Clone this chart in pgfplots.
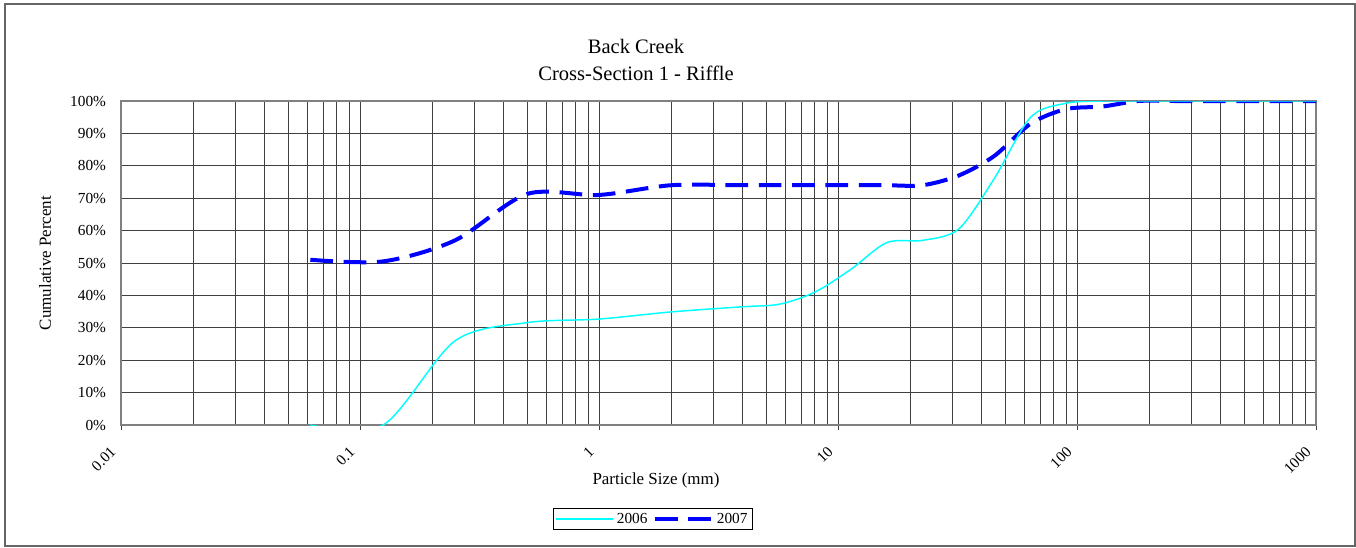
\documentclass[border=0pt]{standalone}
\usepackage{pgfplots}
\pgfplotsset{compat=1.18}
\usepackage{fontspec}
\setmainfont{Liberation Serif}
\definecolor{c2006}{RGB}{0,255,255}
\definecolor{c2007}{RGB}{0,0,255}
\begin{document}
\begin{tikzpicture}
\useasboundingbox (-90.75pt,-91.5pt) rectangle (926.25pt,318.75pt);
\draw[black!60, line width=0.9pt] (-87pt,-90.75pt) rectangle (925.5pt,315.75pt);
\begin{axis}[
  at={(0,0)}, anchor=south west,
  width=896.25pt, height=243pt, scale only axis,
  xmode=log, log basis x=10,
  xmin=0.01, xmax=1000, ymin=0, ymax=100,
  xtick={0.01,0.1,1,10,100,1000},
  xticklabels={0.01,0.1,1,10,100,1000},
  minor xtick={0.02,0.03,0.04,0.05,0.06,0.07,0.08,0.09,
               0.2,0.3,0.4,0.5,0.6,0.7,0.8,0.9,
               2,3,4,5,6,7,8,9,20,30,40,50,60,70,80,90,
               200,300,400,500,600,700,800,900},
  ytick={0,10,20,30,40,50,60,70,80,90,100},
  yticklabels={0\%,10\%,20\%,30\%,40\%,50\%,60\%,70\%,80\%,90\%,100\%},
  grid=both,
  major grid style={black!75, line width=0.6pt},
  minor grid style={black!75, line width=0.6pt},
  tick align=outside,
  xtick pos=left,
  major tick length=3.75pt, minor tick length=0pt,
  ytick style={draw=none},
  xtick style={black!75, line width=0.6pt},
  axis line style={gray, line width=1.2pt},
  xticklabel style={font=\fontsize{11.5}{13}\selectfont, rotate=45, anchor=east, xshift=-11pt, yshift=-6.2pt},
  yticklabel style={font=\fontsize{11.5}{13}\selectfont, anchor=east, xshift=-4pt},
  xlabel={Particle Size (mm)},
  xlabel style={font=\fontsize{12.7}{14}\selectfont, at={(axis description cs:0.4477,-0.170)}, anchor=center},
  ylabel={Cumulative Percent},
  ylabel style={font=\fontsize{12.7}{14}\selectfont, at={(axis description cs:-0.0636,0.5)}, anchor=center, rotate=0},
  legend columns=2,
  reverse legend,
  legend style={at={(axis description cs:0.445,-0.290)}, anchor=center,
    draw=black, line width=0.8pt, font=\fontsize{11.5}{13}\selectfont,
    inner sep=1.5pt,
    /tikz/every even column/.append style={column sep=2pt}},
  legend image code/.code={\draw[#1] (0pt,0pt) -- (43pt,0pt);},
  clip mode=individual,
]
\addplot[c2007, line width=3pt, dash pattern=on 17pt off 8pt, smooth] coordinates {
 (0.062,51) (0.125,50.5) (0.25,57) (0.5,71.3) (1,71) (2,74) (4,74) (5.7,74)
 (8,74) (11.3,74) (16,74) (22.6,74) (32,77) (45,83) (64,93) (90,97.5)
 (128,98.3) (180,100) (256,100) (362,100) (512,100) (1024,100)
};
\addlegendentry{2007}
\addplot[c2006, line width=1.1pt, smooth] coordinates {
 (0.062,0) (0.125,0) (0.25,26) (0.5,31.6) (1,32.7) (2,34.9) (4,36.5) (5.7,37.3)
 (8,41) (11.3,48) (16,56.3) (22.6,57) (32,60.5) (45,76) (64,95) (90,99.3)
 (128,100) (180,100) (256,100) (362,100) (512,100) (1024,100)
};
\addlegendentry{2006}
\node[font=\fontsize{15.4}{20.25}\selectfont, align=center] at (axis description cs:0.431,1.128) {Back Creek\\Cross-Section 1 - Riffle};
\end{axis}
\end{tikzpicture}
\end{document}
